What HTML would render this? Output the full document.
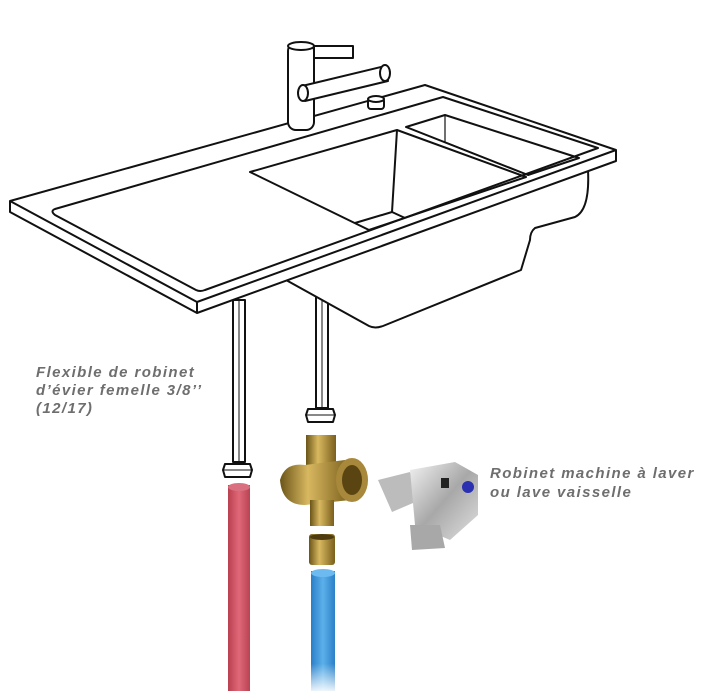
<!DOCTYPE html>
<html><head><meta charset="utf-8"><style>
html,body{margin:0;padding:0;background:#fff;width:720px;height:691px;overflow:hidden}
svg{display:block}
text{font-family:"Liberation Sans",sans-serif;font-weight:bold;font-style:italic;font-size:15px;fill:#6e6e6e;letter-spacing:1.4px}
</style></head><body>
<svg width="720" height="691" viewBox="0 0 720 691" xmlns="http://www.w3.org/2000/svg">
<defs>
<linearGradient id="red" x1="0" x2="1"><stop offset="0" stop-color="#b8404f"/><stop offset="0.5" stop-color="#e06878"/><stop offset="1" stop-color="#b84352"/></linearGradient>
<linearGradient id="blue" x1="0" x2="1"><stop offset="0" stop-color="#2a7ec8"/><stop offset="0.5" stop-color="#5cb0ea"/><stop offset="1" stop-color="#2b80c8"/></linearGradient>
<linearGradient id="bfade" x1="0" y1="0" x2="0" y2="1"><stop offset="0.7" stop-color="#fff" stop-opacity="0"/><stop offset="1" stop-color="#fff" stop-opacity="0.9"/></linearGradient>
<linearGradient id="brass" x1="0" x2="1"><stop offset="0" stop-color="#6a5418"/><stop offset="0.4" stop-color="#d8b860"/><stop offset="1" stop-color="#7a5f1c"/></linearGradient>
<linearGradient id="chrome" x1="0" y1="0" x2="1" y2="1"><stop offset="0" stop-color="#f2f2f2"/><stop offset="0.5" stop-color="#a8a8a8"/><stop offset="1" stop-color="#e0e0e0"/></linearGradient>
</defs>
<g fill="none" stroke="#111" stroke-width="2" stroke-linejoin="round">
<rect x="233" y="300" width="12" height="162" fill="#fff"/>
<line x1="239" y1="300" x2="239" y2="462" stroke-width="1"/>
<rect x="316" y="280" width="12" height="128" fill="#fff"/>
<line x1="322" y1="280" x2="322" y2="408" stroke-width="1"/>
<path d="M588 170 Q590 210 575 217 L535 228 Q530 232 530 240 L521 270 L383 326 Q375 329 369 326 L286 280" fill="#fff"/>
<path d="M10 201 L425 85 L616 150 L616 161 L197 313 L10 212 Z" fill="#fff"/>
<path d="M10 201 L197 302 L616 150 M197 302 L197 313"/>
<path d="M55 209 L443 97 L598 148 L205 290 Q200 292 196 290 L55 215 Q50 211 55 209 Z"/>
<path d="M250 172 L397 130 L526 177 L369 230 Z"/>
<path d="M397 130 L392 212 L355 223 M392 212 L405 218"/>
<path d="M406 127 L445 115 L579 158 L528 175 Z"/>
<path d="M445 115 L445 142 L528 175" stroke-width="1.2"/>
<rect x="288" y="43" width="26" height="87" rx="8" fill="#fff"/>
<ellipse cx="301" cy="46" rx="13" ry="4" fill="#fff"/>
<rect x="314" y="46" width="39" height="12" fill="#fff"/>
<path d="M302 86 L385 66 L388 81 L305 101 Z" fill="#fff"/>
<ellipse cx="303" cy="93" rx="5" ry="8" fill="#fff"/>
<ellipse cx="385" cy="73" rx="5" ry="8" fill="#fff"/>
<rect x="368" y="98" width="16" height="11" rx="3" fill="#fff"/>
<ellipse cx="376" cy="99" rx="8" ry="3" fill="#fff"/>
<path d="M225 464 L250 464 L252 470 L250 477 L225 477 L223 470 Z" fill="#fff"/>
<line x1="223" y1="470" x2="252" y2="470" stroke-width="1"/>
<path d="M308 409 L333 409 L335 415 L333 422 L308 422 L306 415 Z" fill="#fff"/>
<line x1="306" y1="415" x2="335" y2="415" stroke-width="1"/>
</g>
<rect x="228" y="485" width="22" height="206" fill="url(#red)"/>
<ellipse cx="239" cy="487" rx="11" ry="4" fill="#d9707f"/>
<rect x="311" y="571" width="24" height="120" fill="url(#blue)"/>
<ellipse cx="323" cy="573" rx="12" ry="4" fill="#6cbaf0"/>
<rect x="311" y="600" width="24" height="91" fill="url(#bfade)"/>
<g>
<rect x="306" y="435" width="30" height="30" fill="url(#brass)"/>
<path d="M280 480 Q285 462 305 465 L345 460 L350 500 L305 505 Q282 505 280 480 Z" fill="url(#brass)"/>
<ellipse cx="352" cy="480" rx="16" ry="22" fill="#a8883a"/>
<ellipse cx="352" cy="480" rx="10" ry="15" fill="#5a4512"/>
<rect x="310" y="500" width="24" height="26" fill="url(#brass)"/>
<rect x="309" y="534" width="26" height="31" rx="3" fill="url(#brass)"/>
<ellipse cx="322" cy="537" rx="12" ry="3" fill="#4e3c10"/>
</g>
<g>
<path d="M378 480 L410 472 L420 500 L392 512 Z" fill="#bcbcbc"/>
<path d="M410 470 L455 462 L478 475 L478 515 L450 540 L415 525 Z" fill="url(#chrome)"/>
<circle cx="468" cy="487" r="6" fill="#2a30b0"/>
<rect x="441" y="478" width="8" height="10" fill="#222"/>
<path d="M410 525 L440 525 L445 548 L412 550 Z" fill="#a8a8a8"/>
</g>
<text x="36" y="377">Flexible de robinet</text>
<text x="36" y="395">d’évier femelle 3/8’’</text>
<text x="36" y="413">(12/17)</text>
<text x="490" y="478">Robinet machine à laver</text>
<text x="490" y="497">ou lave vaisselle</text>
</svg>
</body></html>
